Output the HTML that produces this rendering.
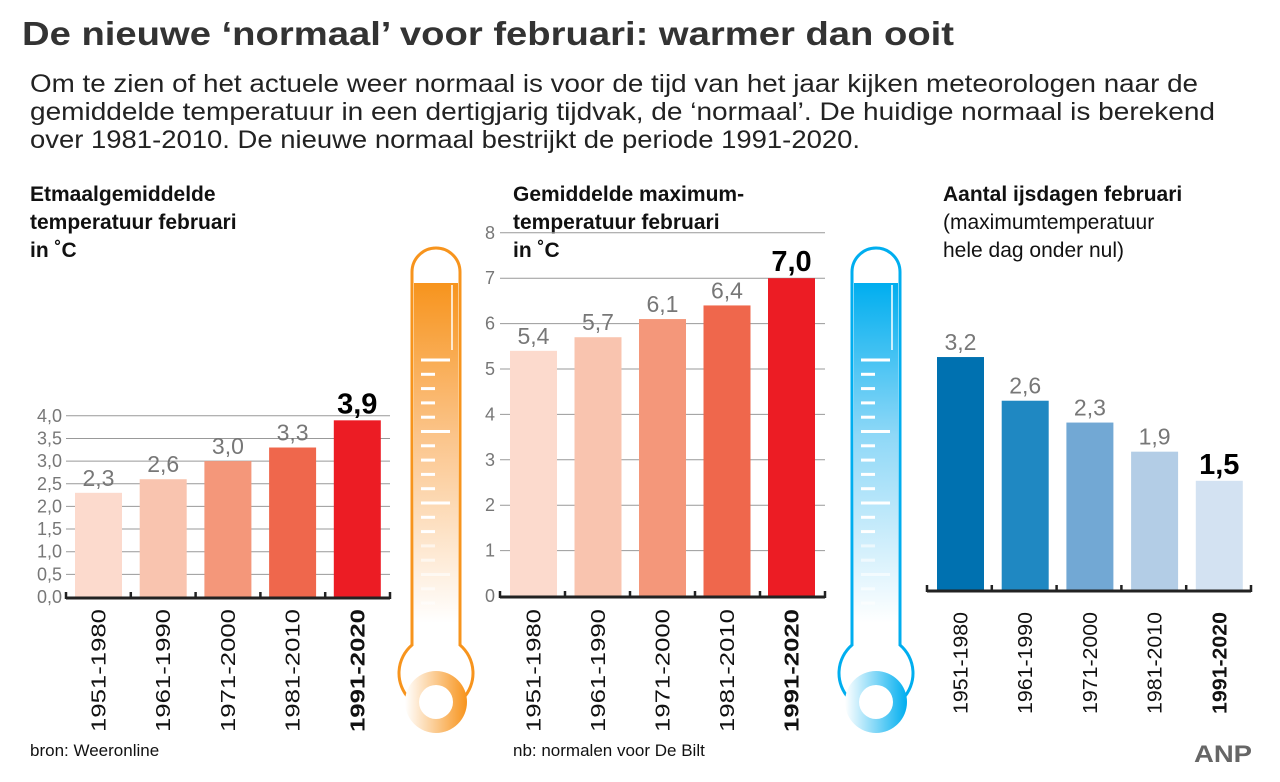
<!DOCTYPE html>
<html><head><meta charset="utf-8"><style>
html,body{margin:0;padding:0;background:#fff;}
svg{display:block;font-family:"Liberation Sans",sans-serif;}
</style></head><body>
<svg id="c" width="1280" height="782" viewBox="0 0 1280 782">
<defs>
<linearGradient id="og" x1="0" y1="0" x2="0" y2="1"><stop offset="0" stop-color="#f7941d"/><stop offset="0.45" stop-color="#fbc48a"/><stop offset="1" stop-color="#ffffff"/></linearGradient>
<linearGradient id="bg" x1="0" y1="0" x2="0" y2="1"><stop offset="0" stop-color="#00aeef"/><stop offset="0.45" stop-color="#8fd8f7"/><stop offset="1" stop-color="#ffffff"/></linearGradient>
<linearGradient id="ob" x1="0" y1="0" x2="1" y2="0"><stop offset="0" stop-color="#fff"/><stop offset="1" stop-color="#f7941d"/></linearGradient>
<linearGradient id="bb" x1="0" y1="0" x2="1" y2="0"><stop offset="0" stop-color="#fff"/><stop offset="1" stop-color="#00aeef"/></linearGradient>
</defs>
<text x="22" y="45" font-size="33" font-weight="bold" fill="#333" textLength="932" lengthAdjust="spacingAndGlyphs">De nieuwe ‘normaal’ voor februari: warmer dan ooit</text>
<g font-size="25" fill="#222">
<text x="30" y="92" textLength="1168" lengthAdjust="spacingAndGlyphs">Om te zien of het actuele weer normaal is voor de tijd van het jaar kijken meteorologen naar de</text>
<text x="30" y="120" textLength="1185" lengthAdjust="spacingAndGlyphs">gemiddelde temperatuur in een dertigjarig tijdvak, de ‘normaal’. De huidige normaal is berekend</text>
<text x="30" y="148" textLength="830" lengthAdjust="spacingAndGlyphs">over 1981-2010. De nieuwe normaal bestrijkt de periode 1991-2020.</text>
</g>
<g font-size="21" font-weight="bold" fill="#111">
<text><tspan x="30" y="201">Etmaalgemiddelde</tspan><tspan x="30" y="229">temperatuur februari</tspan><tspan x="30" y="257">in ˚C</tspan></text>
<text><tspan x="513" y="201">Gemiddelde maximum-</tspan><tspan x="513" y="229">temperatuur februari</tspan><tspan x="513" y="257">in ˚C</tspan></text>
<text x="943" y="201">Aantal ijsdagen februari</text>
</g>
<text font-size="21" fill="#111"><tspan x="943" y="229">(maximumtemperatuur</tspan><tspan x="943" y="257">hele dag onder nul)</tspan></text>
<text x="30" y="756" font-size="17" fill="#111">bron:  Weeronline</text>
<text x="513" y="756" font-size="17" fill="#111">nb: normalen voor De Bilt</text>
<text x="1194" y="762" font-size="24" font-weight="bold" fill="#666" textLength="58" lengthAdjust="spacingAndGlyphs">ANP</text>
<g id="therm"></g>
<g id="charts"></g>
</svg>
<script>
const categories = ["1951-1980","1961-1990","1971-2000","1981-2010","1991-2020"];
const meanTemp = [2.3, 2.6, 3.0, 3.3, 3.9];
const maxTemp = [5.4, 5.7, 6.1, 6.4, 7.0];
const iceDays = [3.2, 2.6, 2.3, 1.9, 1.5];
const meanTicks = ["0,0","0,5","1,0","1,5","2,0","2,5","3,0","3,5","4,0"];
const maxTicks = ["0","1","2","3","4","5","6","7","8"];
const fmt = v => v.toFixed(1).replace('.', ',');
const NS = "http://www.w3.org/2000/svg";
function mk(tag, attrs, parent){const e=document.createElementNS(NS,tag);for(const k in attrs)e.setAttribute(k,attrs[k]);parent.appendChild(e);return e;}
const root = document.getElementById('charts');
const reds = ["#fcdacd","#f9c4af","#f4977a","#ef674c","#ec1c24"];
const blues = ["#0071b0","#1f88c2","#72a8d4","#b3cde6","#d3e2f2"];

function chart(opt){
  const g = mk('g',{},root);
  
  
  const y = v => opt.base - v*opt.ppu;
  const x = i => opt.x0 + i*opt.step;
  if(opt.ticks){
    opt.ticks.forEach((t,i)=>{
      const v = i*opt.tickStep;
      if(i>0){const l=mk('line',{x1:opt.gx0,x2:opt.gx1,y1:y(v),y2:y(v),stroke:'#999','stroke-width':1},g);
      
      }
      const tx=mk('text',{x:opt.tx,y:y(v)+6,'font-size':18,fill:'#777','text-anchor':'end'},g);
      tx.textContent=t;
      
      
    });
  }
  opt.values.forEach((v,i)=>{
    const r=mk('rect',{x:x(i),y:y(v),width:opt.bw,height:v*opt.ppu,fill:opt.colors[i]},g);
    
    
    const last=i===opt.values.length-1;
    const t=mk('text',{x:x(i)+opt.bw/2,y:y(v)-7,'text-anchor':'middle','font-size':last?29:23,'font-weight':last?'bold':'normal',fill:last?'#000':'#777'},g);
    t.textContent=fmt(v);
    
    
    const cx=x(i)+opt.bw/2+7;
    const lb=mk('text',{x:0,y:0,transform:`translate(${cx},${opt.base+opt.lOff}) rotate(-90)`,'text-anchor':'end','font-size':20,'font-weight':last?'bold':'normal',fill:'#111',textLength:opt.lLen,lengthAdjust:'spacingAndGlyphs'},g);
    lb.textContent=categories[i];
    
    
  });
  const a=mk('line',{x1:opt.gx0,x2:opt.gx1,y1:opt.base+1,y2:opt.base+1,stroke:'#222','stroke-width':3},g);
  
  
  for(let i=0;i<=opt.values.length;i++){
    const px=opt.gx0+i*(opt.gx1-opt.gx0)/opt.values.length;
    mk('line',{x1:px,x2:px,y1:opt.base-5,y2:opt.base+2,stroke:'#222','stroke-width':2.5},g);
  }
}
chart({name:'chart-mean-temp',values:meanTemp,base:597,ppu:45.3,x0:75,step:64.7,bw:47,colors:reds,ticks:meanTicks,tickStep:0.5,gx0:66,gx1:390,tx:62,lOff:12,lLen:123});
chart({name:'chart-max-temp',values:maxTemp,base:596,ppu:45.4,x0:510,step:64.5,bw:47,colors:reds,ticks:maxTicks,tickStep:1,gx0:500,gx1:825,tx:495,lOff:13,lLen:123});
chart({name:'chart-ice-days',values:iceDays,base:590,ppu:72.8,x0:937,step:64.7,bw:47,colors:blues,ticks:null,gx0:927,gx1:1251,lOff:22,lLen:102});

function thermo(cx, fill, bulb, stroke, name){
  const g=mk('g',{},document.getElementById('therm'));
  
  
  mk('rect',{x:cx-22,y:283,width:44,height:340,fill:'url(#'+fill+')'},g);
  mk('path',{d:`M${cx-24} 645 L${cx-24} 272 A24 24 0 0 1 ${cx+24} 272 L${cx+24} 645 A37 37 0 1 1 ${cx-24} 645 Z`,fill:'none',stroke:stroke,'stroke-width':3},g);
  mk('circle',{cx:cx,cy:702,r:31,fill:'url(#'+bulb+')'},g);
  mk('circle',{cx:cx,cy:702,r:17,fill:'#fff'},g);
  mk('line',{x1:cx+16,x2:cx+16,y1:285,y2:350,stroke:'#fff','stroke-width':1.5},g);
  for(let k=0;k<18;k++){
    const yy=360+k*14.3;const long=k%5===0;
    mk('line',{x1:cx-15,x2:long?cx+14:cx-1,y1:yy,y2:yy,stroke:'#fff','stroke-width':3,opacity:yy>540?0.6:1},g);
  }
}
thermo(436,'og','ob','#f7941d','thermometer-orange');
thermo(876,'bg','bb','#00aeef','thermometer-blue');
</script>
</body></html>
